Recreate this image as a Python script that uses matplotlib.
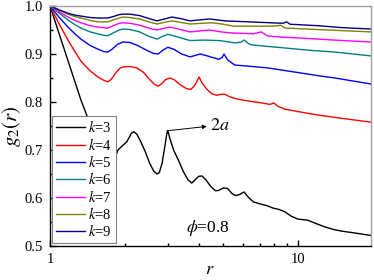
import matplotlib
matplotlib.use("Agg")
import matplotlib.pyplot as plt
from matplotlib.ticker import FixedLocator, NullFormatter, MultipleLocator

plt.rcParams['font.family'] = ['Liberation Serif', 'DejaVu Serif']
plt.rcParams['mathtext.fontset'] = 'stix'

# k = 3
r3 = [1.0, 1.333, 1.42, 1.6, 1.68, 1.746, 1.8, 1.88, 1.97, 2.04, 2.08, 2.13, 2.18, 2.24, 2.32,
      2.42, 2.52, 2.62, 2.7, 2.76, 2.83, 2.9, 2.96, 2.99, 3.04, 3.15, 3.3, 3.45, 3.6, 3.73,
      3.85, 3.97, 4.1, 4.25, 4.45, 4.65, 4.8, 5.0, 5.2, 5.4, 5.6, 5.8, 6.06, 6.3, 6.6,
      7.0, 7.5, 7.93, 8.4, 8.87, 9.4, 10.0, 10.9, 11.8, 12.8, 14.0, 15.0, 17.0, 19.7]
g3 = [1.0, 0.804, 0.767, 0.64, 0.63, 0.654, 0.675, 0.70, 0.71, 0.717, 0.725, 0.735, 0.738, 0.733, 0.718,
      0.697, 0.673, 0.656, 0.650, 0.653, 0.672, 0.705, 0.735, 0.740, 0.725, 0.700, 0.678, 0.655, 0.638, 0.631,
      0.638, 0.645, 0.646, 0.638, 0.624, 0.615, 0.616, 0.621, 0.620, 0.610, 0.605, 0.607, 0.6125, 0.602, 0.592,
      0.588, 0.584, 0.579, 0.576, 0.571, 0.562, 0.556, 0.554, 0.547, 0.540, 0.534, 0.531, 0.527, 0.522]
# k = 4
r4 = [1.0, 1.09, 1.182, 1.26, 1.333, 1.45, 1.562, 1.65, 1.714, 1.77, 1.85, 1.92, 1.97, 2.1, 2.24,
      2.38, 2.52, 2.65, 2.73, 2.82, 2.93, 3.05, 3.18, 3.35, 3.55, 3.7, 3.85, 3.99, 4.1, 4.3,
      4.5, 4.7, 4.9, 5.08, 5.3, 5.6, 6.0, 6.5, 7.15, 7.7, 8.0, 8.3, 8.87, 10.0, 12.0,
      15.0, 19.7]
g4 = [1.0, 0.962, 0.929, 0.905, 0.885, 0.865, 0.852, 0.845, 0.842, 0.848, 0.862, 0.871, 0.873, 0.874, 0.871,
      0.862, 0.847, 0.836, 0.833, 0.838, 0.847, 0.850, 0.846, 0.836, 0.828, 0.826, 0.836, 0.852, 0.840, 0.826,
      0.817, 0.814, 0.816, 0.816, 0.811, 0.807, 0.804, 0.801, 0.798, 0.795, 0.798, 0.791, 0.785, 0.780, 0.773,
      0.766, 0.758]
# k = 5
r5 = [1.0, 1.09, 1.182, 1.26, 1.333, 1.45, 1.562, 1.65, 1.71, 1.78, 1.87, 1.97, 2.1, 2.25, 2.45,
      2.62, 2.73, 2.85, 2.99, 3.15, 3.4, 3.67, 3.85, 4.03, 4.25, 4.5, 4.8, 4.95, 5.03, 5.2,
      5.56, 6.2, 7.56, 9.0, 10.4, 12.0, 14.1, 17.0, 19.7]
g5 = [1.0, 0.976, 0.956, 0.942, 0.931, 0.918, 0.910, 0.905, 0.904, 0.910, 0.920, 0.925, 0.924, 0.918, 0.908,
      0.901, 0.900, 0.908, 0.914, 0.910, 0.900, 0.894, 0.897, 0.900, 0.897, 0.893, 0.889, 0.893, 0.900, 0.888,
      0.877, 0.875, 0.871, 0.865, 0.860, 0.855, 0.850, 0.843, 0.8375]
# k = 6
r6 = [1.0, 1.09, 1.182, 1.26, 1.333, 1.45, 1.562, 1.65, 1.71, 1.8, 1.9, 1.97, 2.1, 2.3, 2.5,
      2.7, 2.85, 2.99, 3.2, 3.67, 4.2, 4.8, 5.3, 5.56, 5.9, 6.07, 6.3, 6.5, 7.5, 8.87,
      11.0, 14.1, 19.7]
g6 = [1.0, 0.985, 0.971, 0.961, 0.954, 0.946, 0.942, 0.939, 0.938, 0.944, 0.950, 0.952, 0.951, 0.946, 0.937,
      0.931, 0.937, 0.941, 0.937, 0.928, 0.929, 0.928, 0.925, 0.923, 0.925, 0.929, 0.922, 0.919, 0.916, 0.9125,
      0.908, 0.904, 0.896]
# k = 7
r7 = [1.0, 1.09, 1.182, 1.26, 1.333, 1.45, 1.562, 1.71, 1.8, 1.9, 1.97, 2.1, 2.3, 2.5, 2.7,
      2.85, 3.05, 3.3, 3.67, 4.0, 4.4, 4.9, 5.3, 6.0, 6.6, 7.1, 7.4, 7.56, 8.7, 10.4,
      14.0, 19.7]
g7 = [1.0, 0.988, 0.977, 0.970, 0.965, 0.959, 0.956, 0.954, 0.959, 0.964, 0.965, 0.964, 0.960, 0.954, 0.950,
      0.953, 0.956, 0.952, 0.946, 0.948, 0.950, 0.946, 0.944, 0.943, 0.942, 0.946, 0.940, 0.9375, 0.935, 0.933,
      0.929, 0.925]
# k = 8
r8 = [1.0, 1.09, 1.182, 1.26, 1.333, 1.45, 1.562, 1.71, 1.8, 1.9, 1.97, 2.1, 2.3, 2.5, 2.7,
      2.9, 3.1, 3.35, 3.67, 4.1, 4.5, 5.0, 5.5, 6.5, 7.8, 8.3, 8.5, 8.87, 12.0, 19.7]
g8 = [1.0, 0.991, 0.983, 0.978, 0.975, 0.970, 0.967, 0.967, 0.971, 0.975, 0.977, 0.976, 0.973, 0.967, 0.9625,
      0.966, 0.969, 0.966, 0.9625, 0.964, 0.965, 0.962, 0.958, 0.958, 0.958, 0.959, 0.960, 0.954, 0.951, 0.946]
# k = 9
r9 = [1.0, 1.09, 1.182, 1.26, 1.333, 1.45, 1.562, 1.71, 1.8, 1.9, 1.97, 2.1, 2.3, 2.5, 2.7,
      2.9, 3.1, 3.35, 3.67, 4.0, 4.4, 5.08, 6.3, 7.8, 8.7, 9.0, 9.3, 12.0, 15.0, 19.7]
g9 = [1.0, 0.992, 0.985, 0.981, 0.979, 0.976, 0.975, 0.975, 0.978, 0.982, 0.983, 0.983, 0.980, 0.974, 0.969,
      0.973, 0.977, 0.974, 0.969, 0.971, 0.973, 0.969, 0.967, 0.965, 0.964, 0.967, 0.962, 0.959, 0.955, 0.952]

labels = ["3", "4", "5", "6", "7", "8", "9"]
colors = ["#000000", "#FF0000", "#0000FF", "#008080", "#FF00FF", "#808000", "#000080"]
series = [(r3, g3), (r4, g4), (r5, g5), (r6, g6), (r7, g7), (r8, g8), (r9, g9)]

fig = plt.figure(figsize=(3.74, 2.80), dpi=100)
ax = fig.add_axes([50/374, 1-246/280, 321/374, 240/280])

for (r, g), lab, c in zip(series, labels, colors):
    ax.plot(r, g, color=c, lw=1.0, label=r"$k$=" + lab, solid_joinstyle='round')

ax.set_xscale('log')
ax.set_xlim(1, 19.7)
ax.set_ylim(0.5, 1.0)
ax.xaxis.set_major_locator(FixedLocator([1, 10]))
ax.xaxis.set_minor_locator(FixedLocator([2, 3, 4, 5, 6, 7, 8, 9]))
ax.xaxis.set_minor_formatter(NullFormatter())
ax.set_xticklabels(["1", "10"])
ax.set_yticks([0.5, 0.6, 0.7, 0.8, 0.9, 1.0])
ax.set_yticklabels(["0.5", "0.6", "0.7", "0.8", "0.9", "1.0"])
ax.yaxis.set_minor_locator(MultipleLocator(0.05))
ax.tick_params(which='both', direction='in', top=False, right=False, labelsize=10.5, width=1.0)
ax.tick_params(which='major', length=4, pad=5)
ax.tick_params(which='minor', length=2)

for s in ['top', 'right']:
    ax.spines[s].set_color('#a0a0a0')
for s in ['left', 'bottom']:
    ax.spines[s].set_color('black')
for s in ax.spines.values():
    s.set_linewidth(1.0)

ax.set_ylabel(r"$g_2(r)$", fontsize=15, labelpad=1)
fig.text(210/374, 1 - 270/280, r"$r$", fontsize=13, ha='center', va='center')

leg = ax.legend(loc='lower left', bbox_to_anchor=(0.006, 0.0125), borderaxespad=0,
                fontsize=10.5, frameon=True, fancybox=False, framealpha=1.0,
                edgecolor='#808080', handlelength=2.05, handletextpad=0.2,
                labelspacing=0.09, borderpad=0.25)
leg.get_frame().set_linewidth(0.8)

ax.annotate(r"$2a$", xy=(2.96, 0.74), xytext=(4.4, 0.752), fontsize=13,
            va='center', ha='left',
            arrowprops=dict(arrowstyle='<|-', color='black', lw=0.7,
                            mutation_scale=6, shrinkA=0, shrinkB=0))
ax.text(3.55, 0.5375, r"$\phi$=0.8", fontsize=12.5, va='center', ha='left')

fig.savefig("out.png", dpi=100)
